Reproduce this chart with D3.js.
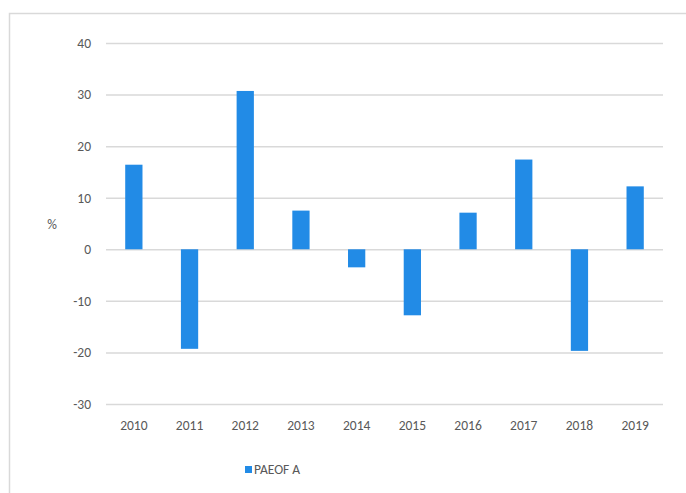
<!DOCTYPE html>
<meta charset="utf-8">
<script src="https://d3js.org/d3.v7.min.js"></script>
<style>
    body { margin: 0; background: #fff; }
    text { font-family: "Carlito", "Liberation Sans Narrow", "Open Sans", sans-serif; fill: #595959; }
</style>
<body>
<div id="chart"></div>
</body>
<script>
    // data
    const years = ["2010", "2011", "2012", "2013", "2014", "2015", "2016", "2017", "2018", "2019"];
    const values = [16.4, -19.3, 30.7, 7.5, -3.5, -12.8, 7.1, 17.4, -19.7, 12.2];
    const yTicks = [-30, -20, -10, 0, 10, 20, 30, 40];
    const seriesName = "PAEOF A";
    const barColor = "#228be6";

    const W = 686, H = 493;
    let margin = {top: 43, right: 23, bottom: 89, left: 106};
    let width = W - margin.left - margin.right,
        height = H - margin.top - margin.bottom;

    const svg = d3.select("#chart")
        .append("svg")
        .attr("width", W)
        .attr("height", H);

    // chart area frame (runs off the right and bottom edges)
    svg.append("rect")
        .attr("x", 9.5).attr("y", 13.5)
        .attr("width", W).attr("height", H)
        .attr("fill", "none")
        .attr("stroke", "#d9d9d9")
        .attr("stroke-width", 1.5);

    const g = svg.append("g")
        .attr("transform", "translate(" + margin.left + "," + margin.top + ")");

    const x = d3.scaleBand()
        .domain(years)
        .range([0, width])
        .paddingInner(0.69)
        .paddingOuter(0.345);

    const y = d3.scaleLinear()
        .domain([-30, 40])
        .range([height, 0]);

    // gridlines + y labels (plain hyphen minus, like the original)
    g.append("g")
        .call(d3.axisLeft(y).tickValues(yTicks).tickFormat(d => String(d)).tickSize(-width).tickPadding(15))
        .call(a => a.select(".domain").remove())
        .call(a => a.selectAll("line").attr("stroke", "#d9d9d9").attr("stroke-width", 1.5))
        .call(a => a.selectAll("text").style("font-size", "13.5px").attr("fill", "#595959"));

    // bars
    g.selectAll(".bar")
        .data(values)
        .enter()
        .append("rect")
        .attr("class", "bar")
        .attr("x", (d, i) => x(years[i]))
        .attr("y", d => y(Math.max(0, d)))
        .attr("width", x.bandwidth())
        .attr("height", d => Math.abs(y(d) - y(0)))
        .attr("fill", barColor);

    // x labels
    g.append("g")
        .attr("transform", "translate(0," + height + ")")
        .call(d3.axisBottom(x).tickSize(0).tickPadding(16))
        .call(a => a.select(".domain").remove())
        .call(a => a.selectAll("text").style("font-size", "13.5px").attr("fill", "#595959"));

    // y axis title
    svg.append("text")
        .attr("x", 52)
        .attr("y", 229)
        .attr("text-anchor", "middle")
        .style("font-size", "13.5px")
        .text("%");

    // legend
    const lg = svg.append("g").attr("transform", "translate(245,466)");
    lg.append("rect")
        .attr("width", 7).attr("height", 7)
        .attr("fill", barColor);
    lg.append("text")
        .attr("x", 9)
        .attr("y", 8)
        .style("font-size", "13.5px")
        .text(seriesName);
</script>
</html>
